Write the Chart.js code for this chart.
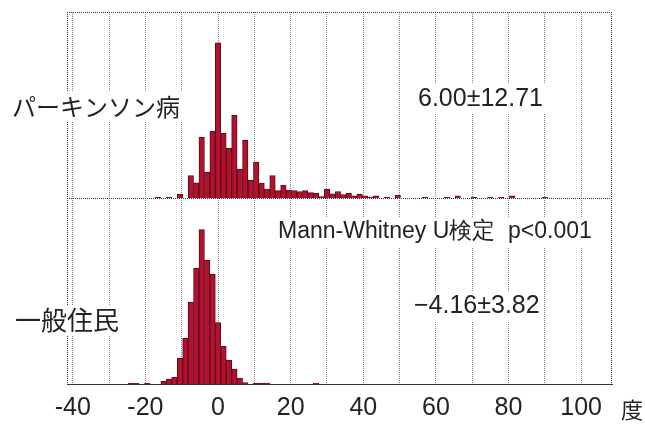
<!DOCTYPE html>
<html><head><meta charset="utf-8">
<script src="https://cdn.jsdelivr.net/npm/chart.js@4/dist/chart.umd.min.js"></script>
<style>html,body{margin:0;padding:0;background:#fff}#wrap{width:645px;height:424px;position:relative}</style>
</head><body><div id="wrap"><canvas id="c" width="645" height="424"></canvas></div>
<script>
// bin centers (degrees), bin width 1.5
const binCenters = [
  -24, -22.5, -21, -19.5, -18, -16.5, -15, -13.5, -12, -10.5,
  -9, -7.5, -6, -4.5, -3, -1.5, 0, 1.5, 3, 4.5,
  6, 7.5, 9, 10.5, 12, 13.5, 15, 16.5, 18, 19.5,
  21, 22.5, 24, 25.5, 27, 28.5, 30, 31.5, 33, 34.5,
  36, 37.5, 39, 40.5, 42, 43.5, 45, 46.5, 48, 49.5,
  51, 52.5, 54, 55.5, 57, 58.5, 60, 61.5, 63, 64.5,
  66, 67.5, 69, 70.5, 72, 73.5, 75, 76.5, 78, 79.5,
  81, 82.5, 84, 85.5, 87, 88.5, 90
];
// relative frequency, パーキンソン病
const parkinsonValues = [
  0, 0, 0, 0, 0, 0.3, 0, 0.4, 0, 2.0,
  0, 12.1, 8.2, 32.6, 13.9, 35.8, 83.4, 34.8, 26.7, 44.4,
  15.5, 31, 9.6, 19.3, 8, 4.8, 12, 4, 7, 4.3,
  4, 3.5, 4, 2.9, 2.7, 0.8, 4.8, 2.3, 3.5, 1.9,
  2.7, 1.1, 2.1, 1.1, 0.5, 1.1, 0, 0.5, 0, 1.6,
  0, 0, 0, 0, 0.3, 0, 0, 0, 0.3, 0,
  1.1, 0, 0, 0.3, 0, 0, 0.5, 0, 0.3, 0,
  1.1, 0, 0, 0, 0, 0, 0.4
];
// relative frequency, 一般住民
const generalValues = [
  0.4, 0.4, 0, 0.3, 0, 0, 1.4, 2.7, 3.7, 13.8,
  24.5, 44.1, 62.2, 83, 66.5, 59, 33, 20.2, 12.8, 8,
  3.2, 0.8, 0, 0.3, 0.3, 0.5, 0, 0, 0, 0,
  0, 0, 0, 0, 0.5, 0, 0, 0, 0, 0,
  0, 0, 0, 0, 0, 0, 0, 0, 0, 0,
  0, 0, 0, 0, 0, 0, 0, 0, 0, 0,
  0, 0, 0, 0, 0, 0, 0, 0, 0, 0,
  0, 0, 0, 0, 0, 0, 0
];
const xGridValues = [-40, -30, -20, -10, 0, 10, 20, 30, 40, 50, 60, 70, 80, 90, 100];
const xTickLabels = ['-40', '-20', '0', '20', '40', '60', '80', '100'];
const groupLabels = ['パーキンソン病', '一般住民'];
const statLabels = ['6.00±12.71', '−4.16±3.82'];
const testLabel = 'Mann-Whitney U検定  p<0.001';
const unitLabel = '度';

const toPoints = vals => binCenters.map((x, i) => ({x: x, y: vals[i]})).filter(p => p.y > 0);

const LATIN = "'Liberation Sans', Arial, sans-serif";
const CJK = "'Noto Sans CJK JP', 'Noto Sans', sans-serif";

const decorPlugin = {
  id: 'decor',
  afterDatasetsDraw(chart) {
    const ctx = chart.ctx, a = chart.chartArea;
    const yMid = chart.scales.yTop.getPixelForValue(0);
    ctx.save();
    ctx.strokeStyle = '#333';
    ctx.lineWidth = 1;
    ctx.setLineDash([1, 1]);
    ctx.beginPath();
    ctx.moveTo(a.left, Math.round(yMid) + 0.5); ctx.lineTo(a.right, Math.round(yMid) + 0.5);
    ctx.moveTo(a.left + 0.5, a.top); ctx.lineTo(a.left + 0.5, a.bottom);
    ctx.moveTo(a.right - 0.5, a.top); ctx.lineTo(a.right - 0.5, a.bottom);
    ctx.moveTo(a.left, a.top + 0.5); ctx.lineTo(a.right, a.top + 0.5);
    ctx.stroke();
    ctx.restore();
  },
  afterDraw(chart) {
    const ctx = chart.ctx;
    const items = [
      {t: groupLabels[0], x: 12, y: 107, f: '24px ' + CJK},
      {t: groupLabels[1], x: 15, y: 320, f: '26px ' + CJK},
      {t: statLabels[0], x: 418, y: 99, f: '25px ' + LATIN},
      {t: testLabel, x: 278, y: 232, f: '23px ' + LATIN},
      {t: statLabels[1], x: 414, y: 306, f: '25px ' + LATIN},
      {t: unitLabel, x: 621, y: 410, f: '22px ' + CJK}
    ];
    ctx.save();
    ctx.textBaseline = 'middle';
    ctx.textAlign = 'left';
    for (const it of items) {
      ctx.font = it.f;
      const w = ctx.measureText(it.t).width;
      ctx.fillStyle = '#fff';
      ctx.fillRect(it.x - 4, it.y - 15, w + 8, 30);
      ctx.fillStyle = '#222';
      ctx.fillText(it.t, it.x, it.y);
    }
    ctx.restore();
  }
};

const dsStyle = {
  grouped: false,
  backgroundColor: '#b2122f',
  borderColor: '#5e0a18',
  borderWidth: 1,
  barPercentage: 1,
  categoryPercentage: 1,
  borderSkipped: 'bottom'
};

new Chart(document.getElementById('c').getContext('2d'), {
  type: 'bar',
  data: {
    datasets: [
      Object.assign({label: groupLabels[0], data: toPoints(parkinsonValues), yAxisID: 'yTop'}, dsStyle),
      Object.assign({label: groupLabels[1], data: toPoints(generalValues), yAxisID: 'yBot'}, dsStyle)
    ]
  },
  options: {
    responsive: false,
    animation: false,
    devicePixelRatio: 1,
    layout: {padding: {left: 67, right: 33, top: 12, bottom: -9}},
    plugins: {legend: {display: false}, tooltip: {enabled: false}},
    scales: {
      x: {
        type: 'linear', min: -41.6, max: 108.5, offset: false,
        afterBuildTicks: axis => { axis.ticks = xGridValues.map(v => ({value: v})); },
        grid: {offset: false, color: 'rgba(110,110,110,0.8)', lineWidth: 1, drawTicks: false},
        border: {display: true, color: '#333', dash: [1, 1]},
        ticks: {
          autoSkip: false, maxRotation: 0, minRotation: 0, padding: 12, color: '#222',
          font: {family: LATIN, size: 25, lineHeight: 1},
          callback: v => xTickLabels.includes(String(v)) ? String(v) : ''
        }
      },
      yTop: {type: 'linear', position: 'left', stack: 'hist', stackWeight: 1, weight: 2, min: 0, max: 100, display: false},
      yBot: {type: 'linear', position: 'left', stack: 'hist', stackWeight: 1, weight: 1, min: 0, max: 100, display: false}
    }
  },
  plugins: [decorPlugin]
});
</script>
</body></html>
